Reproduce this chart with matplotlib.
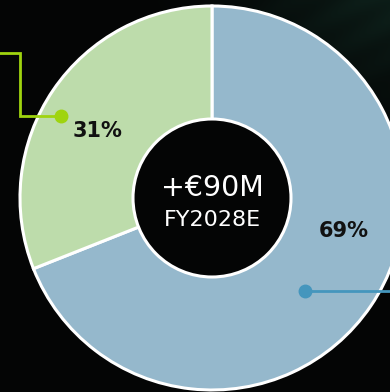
import numpy as np
import matplotlib.pyplot as plt
from matplotlib.patches import Circle

# Revenue split for the FY2028E uplift
segments = ["Segment B", "Segment A"]
shares = [69, 31]
share_labels = ["69%", "31%"]
headline = "+€90M"
period = "FY2028E"

W, H = 390, 392
fig = plt.figure(figsize=(W / 100, H / 100), dpi=100)
ax = fig.add_axes([0, 0, 1, 1])
fig.patch.set_facecolor("#040505")

# dark backdrop with a faint green glow in the upper right
yy, xx = np.mgrid[0:H, 0:W]
glow = np.clip(1.0 - np.hypot((W - xx) / 260.0, yy / 170.0), 0, 1) ** 1.5
streak = 0.5 + 0.5 * np.sin((xx * 0.55 + yy * 1.0) / 6.0)
glow = glow * (0.8 + 0.2 * streak)
bg = np.zeros((H, W, 3))
base = np.array([4, 5, 5]) / 255.0
tint = np.array([14, 34, 28]) / 255.0
bg[:] = base + glow[..., None] * (tint - base)
ax.imshow(bg, extent=(0, W, 0, H), origin="upper", zorder=0, aspect="auto")

cx, cy = 212, 194
R_out, R_in = 192, 79

ax.pie(shares, colors=["#95b8cc", "#bddcab"], startangle=90, counterclock=False,
       center=(cx, cy), radius=R_out, frame=True,
       wedgeprops=dict(edgecolor="white", linewidth=2.2, zorder=2))
ax.add_patch(Circle((cx, cy), R_in, facecolor="#040505", edgecolor="white",
                    linewidth=2.2, zorder=3))

ax.text(cx, H - 188, headline, ha="center", va="center", color="white",
        fontsize=20.5, fontfamily="DejaVu Sans", fontweight="normal", zorder=4)
ax.text(cx, H - 220, period, ha="center", va="center", color="white",
        fontsize=16, fontfamily="DejaVu Sans", fontweight="normal", zorder=4)

ax.text(98, H - 131, share_labels[1], ha="center", va="center", color="#111111",
        fontsize=15, fontfamily="DejaVu Sans", fontweight="bold", zorder=4)
ax.text(344, H - 231, share_labels[0], ha="center", va="center", color="#111111",
        fontsize=15, fontfamily="DejaVu Sans", fontweight="bold", zorder=4)

# leader lines
green = "#9fd40f"
ax.plot([0, 19.5, 19.5, 61], [H - 53, H - 53, H - 116, H - 116], color=green,
        lw=2, solid_joinstyle="miter", zorder=5)
ax.plot([61], [H - 116], "o", color=green, ms=9, zorder=5)
blue = "#4596bd"
ax.plot([305, W], [H - 291, H - 291], color=blue, lw=2, zorder=5)
ax.plot([305], [H - 291], "o", color=blue, ms=9, zorder=5)

ax.set_xlim(0, W)
ax.set_ylim(0, H)
ax.set_aspect("auto")
ax.axis("off")

fig.savefig("out.png", dpi=100, facecolor=fig.get_facecolor())
